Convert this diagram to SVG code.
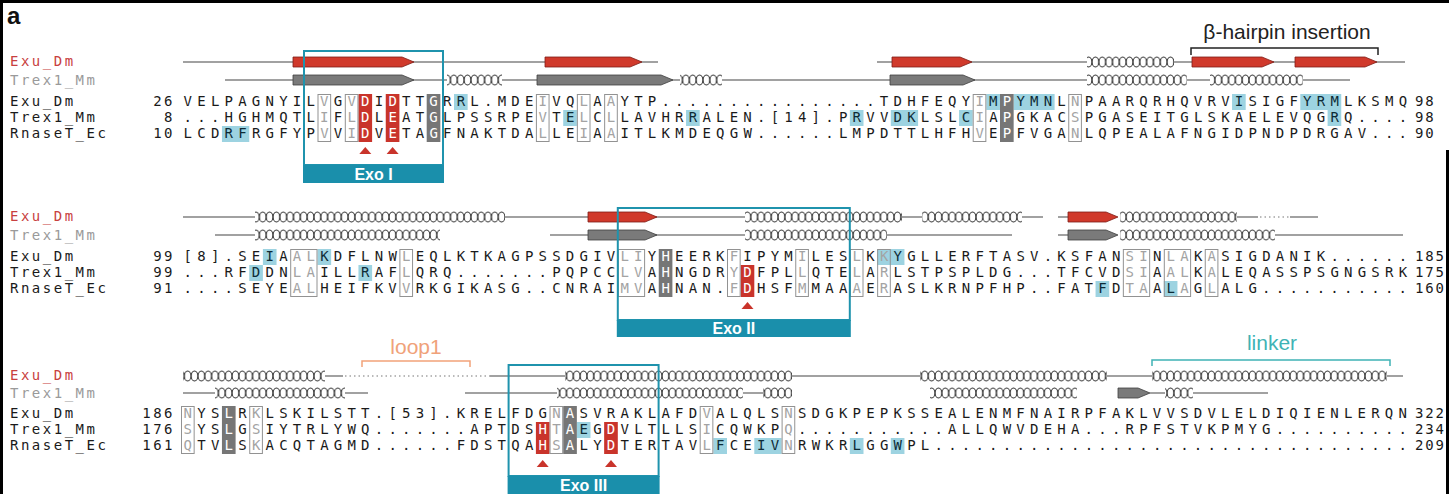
<svg xmlns="http://www.w3.org/2000/svg" width="1449" height="494" viewBox="0 0 1449 494">
<defs>
<style>
.seq{font-family:"DejaVu Sans Mono",monospace;font-size:14px;letter-spacing:5.221px;fill:#1a1a1a}
.lab{font-family:"DejaVu Sans Mono",monospace;font-size:14px;letter-spacing:2.5px;fill:#1a1a1a}
.num{font-family:"DejaVu Sans Mono",monospace;font-size:14px;letter-spacing:2.5px;fill:#1a1a1a;text-anchor:end}
.rnum{font-family:"DejaVu Sans Mono",monospace;font-size:14px;letter-spacing:1.8px;fill:#1a1a1a}
.red{fill:#c84040}
.gry{fill:#9a9a9a}
.g{fill:#a3a3a3}
.w{fill:#ffffff}
.b{fill:#0d2b36}
.ol{fill:none;stroke:#929292;stroke-width:1}
.rd{fill:#c9342b}
.gy{fill:#767676}
.bl{fill:#9dd3e1}
.ln{stroke:#444;stroke-width:1.2;fill:none}
.dt{stroke:#777;stroke-width:1.2;stroke-dasharray:1.5 3;fill:none}
.sr{fill:#d0392b;stroke:#7e1d17;stroke-width:0.8}
.sg{fill:#7a7a7a;stroke:#3f3f3f;stroke-width:0.8}
.exo{fill:none;stroke:#1f93ad;stroke-width:2}
.exobar{fill:#1a8fab}
.exot{font-family:"Liberation Sans",Arial,sans-serif;font-weight:bold;font-size:16px;fill:#fff;text-anchor:middle}
.tri{fill:#c9342b}
.ann{font-family:"Liberation Sans",Arial,sans-serif;font-size:21px;text-anchor:middle}
</style>
<pattern id="hx" patternUnits="userSpaceOnUse" width="6.825" height="12">
<ellipse cx="3.41" cy="6" rx="3.25" ry="5" fill="none" stroke="#2a2a2a" stroke-width="1"/>
</pattern>
</defs>
<rect width="1449" height="494" fill="#fff"/>
<path d="M1.5,494V1.5H1449M1447.5,150V494" fill="none" stroke="#000" stroke-width="3"/>
<text x="7" y="24" font-family="Liberation Sans,Arial,sans-serif" font-weight="bold" font-size="24" fill="#111">a</text>

<g id="annotations">
<path d="M1191,55V48H1378V55" fill="none" stroke="#222" stroke-width="1.5"/>
<text class="ann" x="1287" y="39" fill="#222">β-hairpin insertion</text>
<path d="M362,367V361H470V367" fill="none" stroke="#f2a27a" stroke-width="1.5"/>
<text class="ann" x="416" y="354" font-size="22" fill="#f0a27a">loop1</text>
<path d="M1152,366V360H1390V366" fill="none" stroke="#3fb3b5" stroke-width="1.5"/>
<text class="ann" x="1272" y="350" font-size="22" fill="#3fb3b5">linker</text>
</g>

<!-- Block 1 -->
<g id="block1">
<g id="b1-highlights">
<rect class="bl" x="454" y="94" width="13.65" height="16"/>
<rect class="bl" x="986.35" y="94" width="13.65" height="16"/>
<rect class="bl" x="1013.65" y="94" width="40.95" height="16"/>
<rect class="bl" x="1232.05" y="94" width="13.65" height="16"/>
<rect class="bl" x="1300.3" y="94" width="40.95" height="16"/>
<rect class="bl" x="563.2" y="110" width="13.65" height="16"/>
<rect class="bl" x="686.05" y="110" width="13.65" height="16"/>
<rect class="bl" x="849.85" y="110" width="13.65" height="16"/>
<rect class="bl" x="890.8" y="110" width="27.3" height="16"/>
<rect class="bl" x="959.05" y="110" width="13.65" height="16"/>
<rect class="bl" x="1327.6" y="110" width="13.65" height="16"/>
<rect class="bl" x="221.95" y="126" width="27.3" height="16"/>
<rect class="rd" x="358.45" y="94" width="13.65" height="48"/>
<rect class="rd" x="385.75" y="94" width="13.65" height="48"/>
<rect class="gy" x="426.7" y="94" width="13.65" height="48"/>
<rect class="gy" x="1000" y="94" width="13.65" height="48"/>
<rect class="ol" x="318" y="94.5" width="12.65" height="47"/>
<rect class="ol" x="345.3" y="94.5" width="12.65" height="47"/>
<rect class="ol" x="536.4" y="94.5" width="12.65" height="47"/>
<rect class="ol" x="577.35" y="94.5" width="12.65" height="47"/>
<rect class="ol" x="604.65" y="94.5" width="12.65" height="47"/>
<rect class="ol" x="973.2" y="94.5" width="12.65" height="47"/>
<rect class="ol" x="1068.75" y="94.5" width="12.65" height="47"/>
</g>
<g id="b1-ss">
<path class="ln" d="M183,62H658M877,62H1087M1174,62H1405"/>
<path class="ln" d="M225,80H447M502,80H680M722,80H1087M1187,80H1210M1303,80H1350"/>
<polygon class="sr" points="293,57 402,57 414,62 402,67 293,67"/>
<polygon class="sr" points="545,57 630,57 642,62 630,67 545,67"/>
<polygon class="sr" points="892,57 960,57 972,62 960,67 892,67"/>
<polygon class="sr" points="1192,57 1262,57 1274,62 1262,67 1192,67"/>
<polygon class="sr" points="1295,57 1365,57 1377,62 1365,67 1295,67"/>
<polygon class="sg" points="293,75 402,75 414,80 402,85 293,85"/>
<polygon class="sg" points="537,75 661,75 673,80 661,85 537,85"/>
<polygon class="sg" points="890,75 963,75 975,80 963,85 890,85"/>
<g transform="translate(0,56)"><rect x="1087" y="0" width="87" height="12" fill="url(#hx)"/></g>
<g transform="translate(0,74)">
<rect x="447" y="0" width="55" height="12" fill="url(#hx)"/>
<rect x="680" y="0" width="42" height="12" fill="url(#hx)"/>
<rect x="1087" y="0" width="100" height="12" fill="url(#hx)"/>
<rect x="1210" y="0" width="93" height="12" fill="url(#hx)"/>
</g>
</g>
<text class="lab red" x="10" y="66">Exu_Dm</text>
<text class="lab gry" x="10" y="85">Trex1_Mm</text>
<text class="lab" x="10" y="106">Exu_Dm</text>
<text class="lab" x="10" y="122">Trex1_Mm</text>
<text class="lab" x="10" y="138">RnaseT_Ec</text>
<text class="num" x="175" y="106">26</text>
<text class="num" x="175" y="122">8</text>
<text class="num" x="175" y="138">10</text>
<text class="rnum" x="1415" y="106">98</text>
<text class="rnum" x="1415" y="122">98</text>
<text class="rnum" x="1415" y="138">90</text>
<text class="seq" x="183.61" y="106">VELPAGNYIL<tspan class="g">V</tspan>G<tspan class="g">V</tspan><tspan class="w">D</tspan>I<tspan class="w">D</tspan>TT<tspan class="w">G</tspan>R<tspan class="b">R</tspan>L.MDE<tspan class="g">I</tspan>VQ<tspan class="g">L</tspan>A<tspan class="g">A</tspan>YTP................TDHFEQY<tspan class="g">I</tspan><tspan class="b">M</tspan><tspan class="w">P</tspan><tspan class="b">YMN</tspan>L<tspan class="g">N</tspan>PAARQRHQVRV<tspan class="b">I</tspan>SIGF<tspan class="b">YRM</tspan>LKSMQ</text>
<text class="seq" x="183.61" y="122">...HGHMQTL<tspan class="g">I</tspan>F<tspan class="g">L</tspan><tspan class="w">D</tspan>L<tspan class="w">E</tspan>AT<tspan class="w">G</tspan>LPSSRPE<tspan class="g">V</tspan>T<tspan class="b">E</tspan><tspan class="g">L</tspan>C<tspan class="g">L</tspan>LAVHR<tspan class="b">R</tspan>ALEN.[14].P<tspan class="b">R</tspan>VV<tspan class="b">DK</tspan>LSL<tspan class="b">C</tspan><tspan class="g">I</tspan>A<tspan class="w">P</tspan>GKAC<tspan class="g">S</tspan>PGASEITGLSKAELEVQG<tspan class="b">R</tspan>Q....</text>
<text class="seq" x="183.61" y="138">LCD<tspan class="b">RF</tspan>RGFYP<tspan class="g">V</tspan>V<tspan class="g">I</tspan><tspan class="w">D</tspan>V<tspan class="w">E</tspan>TA<tspan class="w">G</tspan>FNAKTDA<tspan class="g">L</tspan>LE<tspan class="g">I</tspan>A<tspan class="g">A</tspan>ITLKMDEQGW......LMPDTTLHFH<tspan class="g">V</tspan>E<tspan class="w">P</tspan>FVGA<tspan class="g">N</tspan>LQPEALAFNGIDPNDPDRGAV...</text>
<polygon class="tri" points="359.3,154 365.3,147 371.3,154"/>
<polygon class="tri" points="386.6,154 392.6,147 398.6,154"/>
<g id="exo1">
<rect class="exo" x="304" y="51" width="139" height="114"/>
<rect class="exobar" x="303" y="165" width="141" height="18"/>
<text class="exot" x="373.5" y="180">Exo I</text>
</g>
</g>

<!-- Block 2 -->
<g id="block2">
<g id="b2-highlights">
<rect class="bl" x="262.9" y="249" width="13.65" height="16"/>
<rect class="bl" x="317.5" y="249" width="13.65" height="16"/>
<rect class="bl" x="877.15" y="249" width="27.3" height="16"/>
<rect class="bl" x="249.25" y="265" width="13.65" height="16"/>
<rect class="bl" x="358.45" y="265" width="13.65" height="16"/>
<rect class="bl" x="1095.55" y="281" width="13.65" height="16"/>
<rect class="bl" x="1163.8" y="281" width="13.65" height="16"/>
<rect class="gy" x="658.75" y="249" width="13.65" height="48"/>
<rect class="rd" x="740.65" y="265" width="13.65" height="32"/>
<rect class="ol" x="290.7" y="249.5" width="26.3" height="47"/>
<rect class="ol" x="399.9" y="249.5" width="12.65" height="47"/>
<rect class="ol" x="618.3" y="249.5" width="26.3" height="47"/>
<rect class="ol" x="727.5" y="249.5" width="12.65" height="47"/>
<rect class="ol" x="795.75" y="249.5" width="12.65" height="47"/>
<rect class="ol" x="850.35" y="249.5" width="12.65" height="47"/>
<rect class="ol" x="877.65" y="249.5" width="12.65" height="47"/>
<rect class="ol" x="1123.35" y="249.5" width="26.3" height="47"/>
<rect class="ol" x="1164.3" y="249.5" width="26.3" height="47"/>
<rect class="ol" x="1205.25" y="249.5" width="12.65" height="47"/>
</g>
<g id="b2-ss">
<path class="ln" d="M183,217H255M505,217H745M902,217H922M1022,217H1043M1058,217H1068M1237,217H1258M1290,217H1318"/>
<path class="dt" d="M1260,217H1290"/>
<path class="ln" d="M215,235H255M550,235H745M887,235H1012M1058,235H1068M1275,235H1403"/>
<polygon class="sr" points="588,212 645,212 657,217 645,222 588,222"/>
<polygon class="sr" points="1068,212 1106,212 1118,217 1106,222 1068,222"/>
<polygon class="sg" points="588,230 645,230 657,235 645,240 588,240"/>
<polygon class="sg" points="1068,230 1106,230 1118,235 1106,240 1068,240"/>
<g transform="translate(0,211)">
<rect x="255" y="0" width="250" height="12" fill="url(#hx)"/>
<rect x="745" y="0" width="157" height="12" fill="url(#hx)"/>
<rect x="922" y="0" width="100" height="12" fill="url(#hx)"/>
<rect x="1120" y="0" width="117" height="12" fill="url(#hx)"/>
</g>
<g transform="translate(0,229)">
<rect x="255" y="0" width="185" height="12" fill="url(#hx)"/>
<rect x="745" y="0" width="142" height="12" fill="url(#hx)"/>
<rect x="1120" y="0" width="155" height="12" fill="url(#hx)"/>
</g>
</g>
<text class="lab red" x="10" y="221">Exu_Dm</text>
<text class="lab gry" x="10" y="240">Trex1_Mm</text>
<text class="lab" x="10" y="261">Exu_Dm</text>
<text class="lab" x="10" y="277">Trex1_Mm</text>
<text class="lab" x="10" y="293">RnaseT_Ec</text>
<text class="num" x="175" y="261">99</text>
<text class="num" x="175" y="277">99</text>
<text class="num" x="175" y="293">91</text>
<text class="rnum" x="1415" y="261">185</text>
<text class="rnum" x="1415" y="277">175</text>
<text class="rnum" x="1415" y="293">160</text>
<text class="seq" x="183.61" y="261">[8].SE<tspan class="b">I</tspan>A<tspan class="g">AL</tspan><tspan class="b">K</tspan>DFLNW<tspan class="g">L</tspan>EQLKTKAGPSSDGIV<tspan class="g">LI</tspan>Y<tspan class="w">H</tspan>EERK<tspan class="g">F</tspan>IPYM<tspan class="g">I</tspan>LES<tspan class="g">L</tspan>K<tspan class="g">K</tspan><tspan class="b">Y</tspan>GLLERFTASV.KSFAN<tspan class="g">SI</tspan>N<tspan class="g">LA</tspan>K<tspan class="g">A</tspan>SIGDANIK......</text>
<text class="seq" x="183.61" y="277">...RF<tspan class="b">D</tspan>DN<tspan class="g">LA</tspan>ILL<tspan class="b">R</tspan>AF<tspan class="g">L</tspan>QRQ.......PQPCC<tspan class="g">LV</tspan>A<tspan class="w">H</tspan>NGDR<tspan class="g">Y</tspan><tspan class="w">D</tspan>FPL<tspan class="g">L</tspan>QTE<tspan class="g">L</tspan>A<tspan class="g">R</tspan>LSTPSPLDG...TFCVD<tspan class="g">SI</tspan>A<tspan class="g">AL</tspan>K<tspan class="g">A</tspan>LEQASSPSGNGSRK</text>
<text class="seq" x="183.61" y="293">....SEYE<tspan class="g">AL</tspan>HEIFKV<tspan class="g">V</tspan>RKGIKASG..CNRAI<tspan class="g">MV</tspan>A<tspan class="w">H</tspan>NAN.<tspan class="g">F</tspan><tspan class="w">D</tspan>HSF<tspan class="g">M</tspan>MAA<tspan class="g">A</tspan>E<tspan class="g">R</tspan>ASLKRNPFHP..FAT<tspan class="b">F</tspan>D<tspan class="g">TA</tspan>A<tspan class="b">L</tspan><tspan class="g">A</tspan>G<tspan class="g">L</tspan>ALG...........</text>
<polygon class="tri" points="741.5,309 747.5,302 753.5,309"/>
<g id="exo2">
<rect class="exo" x="617.8" y="208" width="232" height="112"/>
<rect class="exobar" x="616.8" y="320" width="234" height="17"/>
<text class="exot" x="733.8" y="334">Exo II</text>
</g>
</g>

<!-- Block 3 -->
<g id="block3">
<g id="b3-highlights">
<rect class="bl" x="576.85" y="422" width="13.65" height="16"/>
<rect class="bl" x="713.35" y="438" width="13.65" height="16"/>
<rect class="bl" x="754.3" y="438" width="27.3" height="16"/>
<rect class="bl" x="849.85" y="438" width="13.65" height="16"/>
<rect class="bl" x="890.8" y="438" width="13.65" height="16"/>
<rect class="gy" x="221.95" y="406" width="13.65" height="48"/>
<rect class="gy" x="563.2" y="406" width="13.65" height="48"/>
<rect class="rd" x="535.9" y="422" width="13.65" height="32"/>
<rect class="rd" x="604.15" y="422" width="13.65" height="32"/>
<rect class="ol" x="181.5" y="406.5" width="12.65" height="47"/>
<rect class="ol" x="249.75" y="406.5" width="12.65" height="47"/>
<rect class="ol" x="550.05" y="406.5" width="12.65" height="47"/>
<rect class="ol" x="700.2" y="406.5" width="12.65" height="47"/>
<rect class="ol" x="782.1" y="406.5" width="12.65" height="47"/>
</g>
<g id="b3-ss">
<path class="ln" d="M325,376H343M490,376H565M792,376H920M1107,376H1152M1387,376H1403"/>
<path class="dt" d="M345,376H490"/>
<path class="ln" d="M183,393H215M345,393H368M465,393H557M743,393H763M1150,393H1165M1193,393H1268"/>
<polygon class="sg" points="1118,388 1138,388 1150,393 1138,398 1118,398"/>
<g transform="translate(0,370)">
<rect x="183" y="0" width="142" height="12" fill="url(#hx)"/>
<rect x="565" y="0" width="227" height="12" fill="url(#hx)"/>
<rect x="920" y="0" width="187" height="12" fill="url(#hx)"/>
<rect x="1152" y="0" width="235" height="12" fill="url(#hx)"/>
</g>
<g transform="translate(0,387)">
<rect x="215" y="0" width="130" height="12" fill="url(#hx)"/>
<rect x="557" y="0" width="186" height="12" fill="url(#hx)"/>
<rect x="763" y="0" width="29" height="12" fill="url(#hx)"/>
<rect x="930" y="0" width="147" height="12" fill="url(#hx)"/>
<rect x="1165" y="0" width="28" height="12" fill="url(#hx)"/>
</g>
</g>
<text class="lab red" x="10" y="380">Exu_Dm</text>
<text class="lab gry" x="10" y="398">Trex1_Mm</text>
<text class="lab" x="10" y="418">Exu_Dm</text>
<text class="lab" x="10" y="434">Trex1_Mm</text>
<text class="lab" x="10" y="450">RnaseT_Ec</text>
<text class="num" x="175" y="418">186</text>
<text class="num" x="175" y="434">176</text>
<text class="num" x="175" y="450">161</text>
<text class="rnum" x="1415" y="418">322</text>
<text class="rnum" x="1415" y="434">234</text>
<text class="rnum" x="1415" y="450">209</text>
<text class="seq" x="183.61" y="418"><tspan class="g">N</tspan>YS<tspan class="w">L</tspan>R<tspan class="g">K</tspan>LSKILSTT.[53].KRELFDG<tspan class="g">N</tspan><tspan class="w">A</tspan>SVRAKLAFD<tspan class="g">V</tspan>ALQLS<tspan class="g">N</tspan>SDGKPEPKSSEALENMFNAIRPFAKLVVSDVLELDIQIENLERQN</text>
<text class="seq" x="183.61" y="434"><tspan class="g">S</tspan>YS<tspan class="w">L</tspan>G<tspan class="g">S</tspan>IYTRLYWQ.......APTDS<tspan class="w">H</tspan><tspan class="g">T</tspan><tspan class="w">A</tspan><tspan class="b">E</tspan>G<tspan class="w">D</tspan>VLTLLS<tspan class="g">I</tspan>CQWKP<tspan class="g">Q</tspan>...........ALLQWVDEHA...RPFSTVKPMYG..........</text>
<text class="seq" x="183.61" y="450"><tspan class="g">Q</tspan>TV<tspan class="w">L</tspan>S<tspan class="g">K</tspan>ACQTAGMD......FDSTQA<tspan class="w">H</tspan><tspan class="g">S</tspan><tspan class="w">A</tspan>LY<tspan class="w">D</tspan>TERTAV<tspan class="g">L</tspan><tspan class="b">F</tspan>CE<tspan class="b">IV</tspan><tspan class="g">N</tspan>RWKR<tspan class="b">L</tspan>GG<tspan class="b">W</tspan>PL...................................</text>
<polygon class="tri" points="536.7,467 542.7,460 548.7,467"/>
<polygon class="tri" points="605,467 611,460 617,467"/>
<g id="exo3">
<rect class="exo" x="508.6" y="365" width="150" height="111"/>
<rect class="exobar" x="507.6" y="476" width="152" height="18"/>
<text class="exot" x="583.6" y="491">Exo III</text>
</g>
</g>
</svg>
